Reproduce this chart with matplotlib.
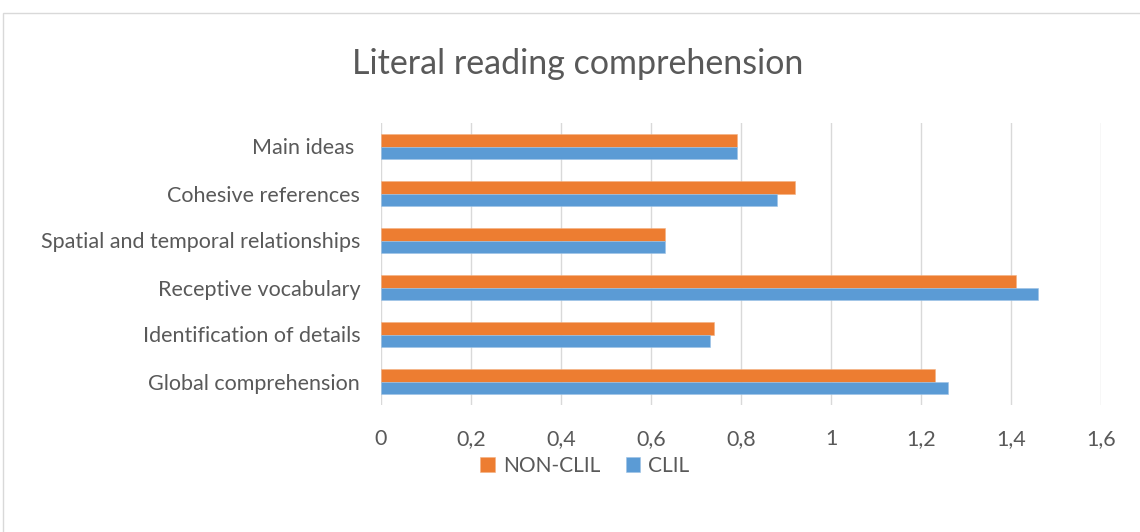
import numpy as np
import matplotlib
matplotlib.use("Agg")
import matplotlib.pyplot as plt
from matplotlib.patches import Rectangle
from matplotlib.ticker import FuncFormatter

# data (bottom to top)
categories = ["Global comprehension", "Identification of details", "Receptive vocabulary",
              "Spatial and temporal relationships", "Cohesive references", "Main ideas "]
non_clil = [1.23, 0.74, 1.41, 0.63, 0.92, 0.79]
clil = [1.26, 0.73, 1.46, 0.63, 0.88, 0.79]
x_ticks = [0, 0.2, 0.4, 0.6, 0.8, 1.0, 1.2, 1.4, 1.6]

ORANGE = "#ED7D31"
BLUE = "#5B9BD5"
TEXT = "#595959"

plt.rcParams['font.family'] = ['Lato', 'DejaVu Sans']

fig = plt.figure(figsize=(11.4, 5.32), dpi=100)
fig.patches.append(Rectangle((3 / 1140, -0.1), 1.2, 1 - 13 / 532 + 0.1, transform=fig.transFigure,
                             fill=False, edgecolor="#D9D9D9", linewidth=1))

ax = fig.add_axes([381 / 1140, 1 - 405 / 532, 720 / 1140, 282 / 532])
y = np.arange(len(categories))
h = 0.26
ax.barh(y + h / 2, non_clil, height=h, color=ORANGE, label="NON-CLIL", edgecolor="#F4B183", linewidth=0.4)
ax.barh(y - h / 2, clil, height=h, color=BLUE, label="CLIL", edgecolor="#9DC3E6", linewidth=0.4)

ax.set_xlim(0, 1.6)
ax.set_ylim(-0.5, len(categories) - 0.5)
ax.set_xticks(x_ticks)
ax.xaxis.set_major_formatter(FuncFormatter(lambda v, p: ("%g" % round(v, 1)).replace(".", ",")))
ax.set_yticks(y)
ax.set_yticklabels(categories)
ax.tick_params(axis="both", length=0, labelsize=15.5, colors=TEXT)
ax.tick_params(axis="y", pad=15)
ax.tick_params(axis="x", pad=17)
ax.grid(axis="x", color="#D9D9D9", linewidth=1)
ax.set_axisbelow(True)
for s in ax.spines.values():
    s.set_visible(False)

fig.text(578 / 1140, 1 - 64 / 532, "Literal reading comprehension", ha="center", va="center",
         fontsize=24.5, color=TEXT)

ax.legend(loc="center", bbox_to_anchor=(585 / 1140, 1 - 466 / 532), bbox_transform=fig.transFigure,
          ncol=2, frameon=False, fontsize=15, labelcolor=TEXT, handlelength=0.7, handleheight=0.7,
          handletextpad=0.4, columnspacing=1.2)

fig.savefig("out.png", dpi=100)
